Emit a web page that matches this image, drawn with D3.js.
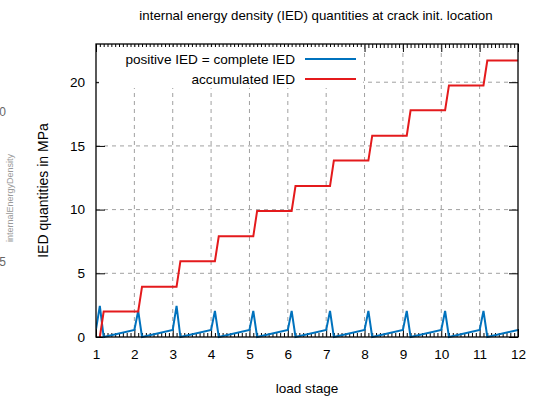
<!DOCTYPE html>
<html>
<head>
<meta charset="utf-8">
<script src="https://cdn.jsdelivr.net/npm/d3@7"></script>
<style>
  html, body { margin: 0; padding: 0; background: #fff; }
  svg { display: block; font-family: "Liberation Sans", Arial, sans-serif; }
</style>
</head>
<body>
<svg id="chart" width="544" height="398"></svg>
<script>
// ---- data ----
const titleText = "internal energy density (IED) quantities at crack init. location";
const xLabel = "load stage";
const yLabel = "IED quantities in MPa";
const seriesNames = ["positive IED = complete IED", "accumulated IED"];
const seriesColors = ["#0072bd", "#e41a1c"];
const xTicks = [1, 2, 3, 4, 5, 6, 7, 8, 9, 10, 11, 12];
const yTicks = [0, 5, 10, 15, 20];

const blueX = [1.0, 1.1, 1.2, 2.0, 2.1, 2.2, 3.0, 3.1, 3.2, 4.0, 4.1, 4.2, 5.0, 5.1, 5.2,
               6.0, 6.1, 6.2, 7.0, 7.1, 7.2, 8.0, 8.1, 8.2, 9.0, 9.1, 9.2, 10.0, 10.1, 10.2,
               11.0, 11.1, 11.2, 12.0];
const blueY = [0.6, 2.45, 0, 0.55, 2.05, 0, 0.55, 2.45, 0, 0.55, 2.05, 0, 0.55, 2.05, 0,
               0.55, 2.05, 0, 0.55, 2.05, 0, 0.55, 2.05, 0, 0.55, 2.05, 0, 0.55, 2.05, 0,
               0.55, 2.05, 0, 0.55];

const redX = [1.1, 1.2, 2.1, 2.2, 3.1, 3.2, 4.1, 4.2, 5.1, 5.2, 6.1, 6.2, 7.1, 7.2,
              8.1, 8.2, 9.1, 9.2, 10.1, 10.2, 11.1, 11.2, 12.0];
const redY = [0, 2.0, 2.0, 3.95, 3.95, 5.95, 5.95, 7.9, 7.9, 9.9, 9.9, 11.85, 11.85, 13.85,
              13.85, 15.8, 15.8, 17.8, 17.8, 19.75, 19.75, 21.7, 21.7];

// ---- layout ----
const L = 96, R = 518, T = 44, B = 337;
const FS = 13.6;
const svg = d3.select("#chart");
const x = d3.scaleLinear().domain([1, 12]).range([L, R]);
const y = d3.scaleLinear().domain([0, 23]).range([B, T]);

// clipped remnants at the far left
svg.append("text").attr("x", 6).attr("y", 116).attr("text-anchor", "end")
  .attr("font-size", 12).attr("fill", "#666").text("0");
svg.append("text").attr("x", 6).attr("y", 266).attr("text-anchor", "end")
  .attr("font-size", 12).attr("fill", "#666").text("5");
svg.append("text").attr("transform", "translate(13,198) rotate(-90)")
  .attr("text-anchor", "middle").attr("font-size", 9).attr("fill", "#999")
  .text("internalEnergyDensity");

// grid
const gridG = svg.append("g").attr("stroke", "#a0a0a0").attr("stroke-width", 1)
  .attr("stroke-dasharray", "4,4");
xTicks.filter(d => d > 1 && d < 12).forEach(d => {
  gridG.append("line").attr("x1", x(d)).attr("x2", x(d)).attr("y1", B).attr("y2", T);
});
yTicks.filter(d => d > 0).forEach(d => {
  gridG.append("line").attr("x1", L).attr("x2", R).attr("y1", y(d)).attr("y2", y(d));
});

// axes (ticks inward, mirrored)
const minorX = d3.range(10, 121).map(d => d / 10).filter(d => !Number.isInteger(d));
function styleAxis(g) {
  g.select(".domain").remove();
  g.selectAll("line").attr("stroke", "#000");
  g.selectAll("text").attr("font-size", FS).attr("fill", "#000")
    .attr("font-family", "Liberation Sans, Arial, sans-serif");
}
svg.append("g").attr("transform", `translate(0,${B})`)
  .call(d3.axisBottom(x).tickValues(xTicks).tickSize(-8).tickPadding(12).tickFormat(d3.format("d")))
  .call(styleAxis);
svg.append("g").attr("transform", `translate(0,${B})`)
  .call(d3.axisBottom(x).tickValues(minorX).tickSize(-4).tickFormat(""))
  .call(styleAxis);
svg.append("g").attr("transform", `translate(0,${T})`)
  .call(d3.axisTop(x).tickValues(xTicks).tickSize(-8).tickFormat(""))
  .call(styleAxis);
svg.append("g").attr("transform", `translate(0,${T})`)
  .call(d3.axisTop(x).tickValues(minorX).tickSize(-4).tickFormat(""))
  .call(styleAxis);
svg.append("g").attr("transform", `translate(${L},0)`)
  .call(d3.axisLeft(y).tickValues(yTicks).tickSize(-9).tickPadding(11))
  .call(styleAxis);
svg.append("g").attr("transform", `translate(${R},0)`)
  .call(d3.axisRight(y).tickValues(yTicks).tickSize(-9).tickFormat(""))
  .call(styleAxis);

// lines
const line = d3.line().x(d => x(d[0])).y(d => y(d[1]));
const blueData = blueX.map((v, i) => [v, blueY[i]]);
const redData = redX.map((v, i) => [v, redY[i]]);
svg.append("clipPath").attr("id", "clip").append("rect")
  .attr("x", L).attr("y", T - 2).attr("width", R - L).attr("height", B - T + 4);
svg.append("path").datum(blueData).attr("d", line).attr("fill", "none")
  .attr("stroke", seriesColors[0]).attr("stroke-width", 2).attr("stroke-linejoin", "miter")
  .attr("clip-path", "url(#clip)");
svg.append("path").datum(redData).attr("d", line).attr("fill", "none")
  .attr("stroke", seriesColors[1]).attr("stroke-width", 2).attr("stroke-linejoin", "miter")
  .attr("clip-path", "url(#clip)");

// legend (opaque)
svg.append("rect").attr("x", L + 3).attr("y", T + 3).attr("width", 264).attr("height", 41)
  .attr("fill", "#fff");
const legY = [59, 79];
seriesNames.forEach((n, i) => {
  svg.append("text").attr("x", 295).attr("y", legY[i]).attr("dy", "0.35em")
    .attr("text-anchor", "end").attr("font-size", FS).attr("fill", "#000").text(n);
  svg.append("line").attr("x1", 305).attr("x2", 356).attr("y1", legY[i]).attr("y2", legY[i])
    .attr("stroke", seriesColors[i]).attr("stroke-width", 2);
});

// border
svg.append("rect").attr("x", L).attr("y", T).attr("width", R - L).attr("height", B - T)
  .attr("fill", "none").attr("stroke", "#000").attr("stroke-width", 1.3);

// titles
svg.append("text").attr("x", 316).attr("y", 20).attr("text-anchor", "middle")
  .attr("font-size", 13.3).attr("fill", "#000").text(titleText);
svg.append("text").attr("x", (L + R) / 2).attr("y", 393).attr("text-anchor", "middle")
  .attr("font-size", FS).attr("fill", "#000").text(xLabel);
svg.append("text").attr("transform", `translate(48,${(T + B) / 2}) rotate(-90)`)
  .attr("text-anchor", "middle").attr("font-size", 14).attr("fill", "#000").text(yLabel);
</script>
</body>
</html>
